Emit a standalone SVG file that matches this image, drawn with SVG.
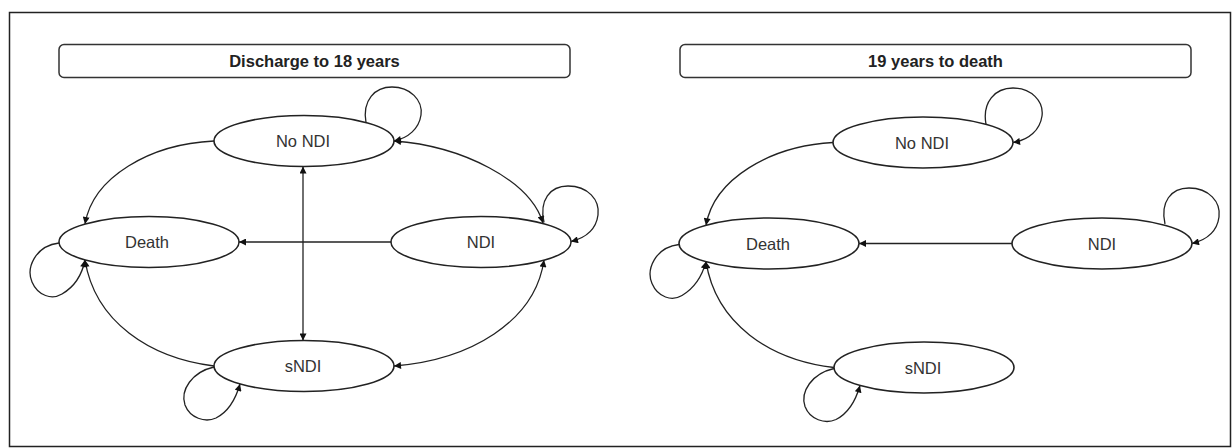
<svg xmlns="http://www.w3.org/2000/svg" width="1232" height="448" viewBox="0 0 1232 448">
<style>
.frame{fill:#fff;stroke:#222;stroke-width:1.5}
.title rect{fill:#fff;stroke:#333;stroke-width:1.5}
.title text{font-family:"Liberation Sans",Arial,sans-serif;font-weight:bold;font-size:16.5px;fill:#222;text-anchor:middle}
.node ellipse{fill:#fff;stroke:#222;stroke-width:1.6}
.node text{font-family:"Liberation Sans",Arial,sans-serif;font-size:16.5px;fill:#333;text-anchor:middle}
.conn path{fill:none;stroke:#222;stroke-width:1.3}
.one{marker-end:url(#ah)}
.two{marker-start:url(#ah);marker-end:url(#ah)}
</style>
<defs>
<marker id="ah" viewBox="0 0 10 10" refX="10" refY="5" markerWidth="8" markerHeight="7" markerUnits="userSpaceOnUse" orient="auto-start-reverse">
<path d="M0,0 L10,5 L0,10 z" fill="#111"/>
</marker>
</defs>
<rect class="frame" x="9.5" y="12.5" width="1221" height="434"/>
<g id="title-left" class="title"><rect x="59" y="44.5" width="511" height="33" rx="5"/><text x="314.5" y="66.5">Discharge to 18 years</text></g>
<g id="title-right" class="title"><rect x="680" y="44.5" width="511" height="33" rx="5"/><text x="935.5" y="66.5">19 years to death</text></g>

<g id="connectors" class="conn">
<!-- left panel -->
<path class="one" d="M214,141 C150,144 93,177 85,224"/>
<path class="two" d="M394,141 C462,146 530,180 543,223"/>
<path class="one" d="M391,242 L239,242"/>
<path class="two" d="M303,166.5 L303,340.5"/>
<path class="two" d="M394,366 C470,360 535,322 544,260"/>
<path class="one" d="M214,366 C150,358 95,322 85,260"/>
<path class="one" d="M366,122.5 C362,100 375,87 392,87 C410,87 423,100 421,115 C419,129 408,138 394,141"/>
<path class="one" d="M544,222.5 C539,200 550,186 568,186 C588,186 600,200 598,215 C596,230 585,238 571,241.5"/>
<path class="one" d="M59,243 C35,246 26,268 32,282 C38,296 52,300 62,294 C74,287 82,275 85,260"/>
<path class="one" d="M214,367 C192,372 180,390 185,405 C190,418 205,423 216,418 C228,412 236,398 240,384"/>
<!-- right panel -->
<path class="one" d="M833,142.5 C770,146 714,179 706,225.3"/>
<path class="one" d="M1012,243.5 L859,243.5"/>
<path class="one" d="M834,367.5 C770,360 716,324 706,261.7"/>
<path class="one" d="M986,124.3 C982,102 995,88 1013,88 C1031,88 1044,101 1042,116 C1040,130 1029,140 1013,142.5"/>
<path class="one" d="M1165,224 C1160,202 1171,188 1189,188 C1209,188 1221,202 1219,217 C1217,232 1206,240 1192,243.5"/>
<path class="one" d="M679,244.5 C655,247.5 646,269.5 652,283.5 C658,297.5 672,301.5 682,295.5 C694,288.5 702,276.5 706,261.7"/>
<path class="one" d="M834,368.5 C812,373.5 800,391.5 805,406.5 C810,419.5 825,424.5 836,419.5 C848,413.5 856,399.5 860,385.5"/>
</g>

<g id="L-nondi" class="node"><ellipse cx="304" cy="141" rx="90" ry="25.5"/><text x="303" y="147">No NDI</text></g>
<g id="L-death" class="node"><ellipse cx="149" cy="242" rx="90" ry="25.5"/><text x="147" y="248">Death</text></g>
<g id="L-ndi" class="node"><ellipse cx="481" cy="242" rx="90" ry="25.5"/><text x="481" y="248">NDI</text></g>
<g id="L-sndi" class="node"><ellipse cx="304" cy="366" rx="90" ry="25.5"/><text x="303" y="372">sNDI</text></g>

<g id="R-nondi" class="node"><ellipse cx="923" cy="142.5" rx="90" ry="25.5"/><text x="922" y="148.5">No NDI</text></g>
<g id="R-death" class="node"><ellipse cx="769" cy="243.5" rx="90" ry="25.5"/><text x="768" y="249.5">Death</text></g>
<g id="R-ndi" class="node"><ellipse cx="1102" cy="243.5" rx="90" ry="25.5"/><text x="1102" y="249.5">NDI</text></g>
<g id="R-sndi" class="node"><ellipse cx="924" cy="367.5" rx="90" ry="25.5"/><text x="923" y="373.5">sNDI</text></g>
</svg>
